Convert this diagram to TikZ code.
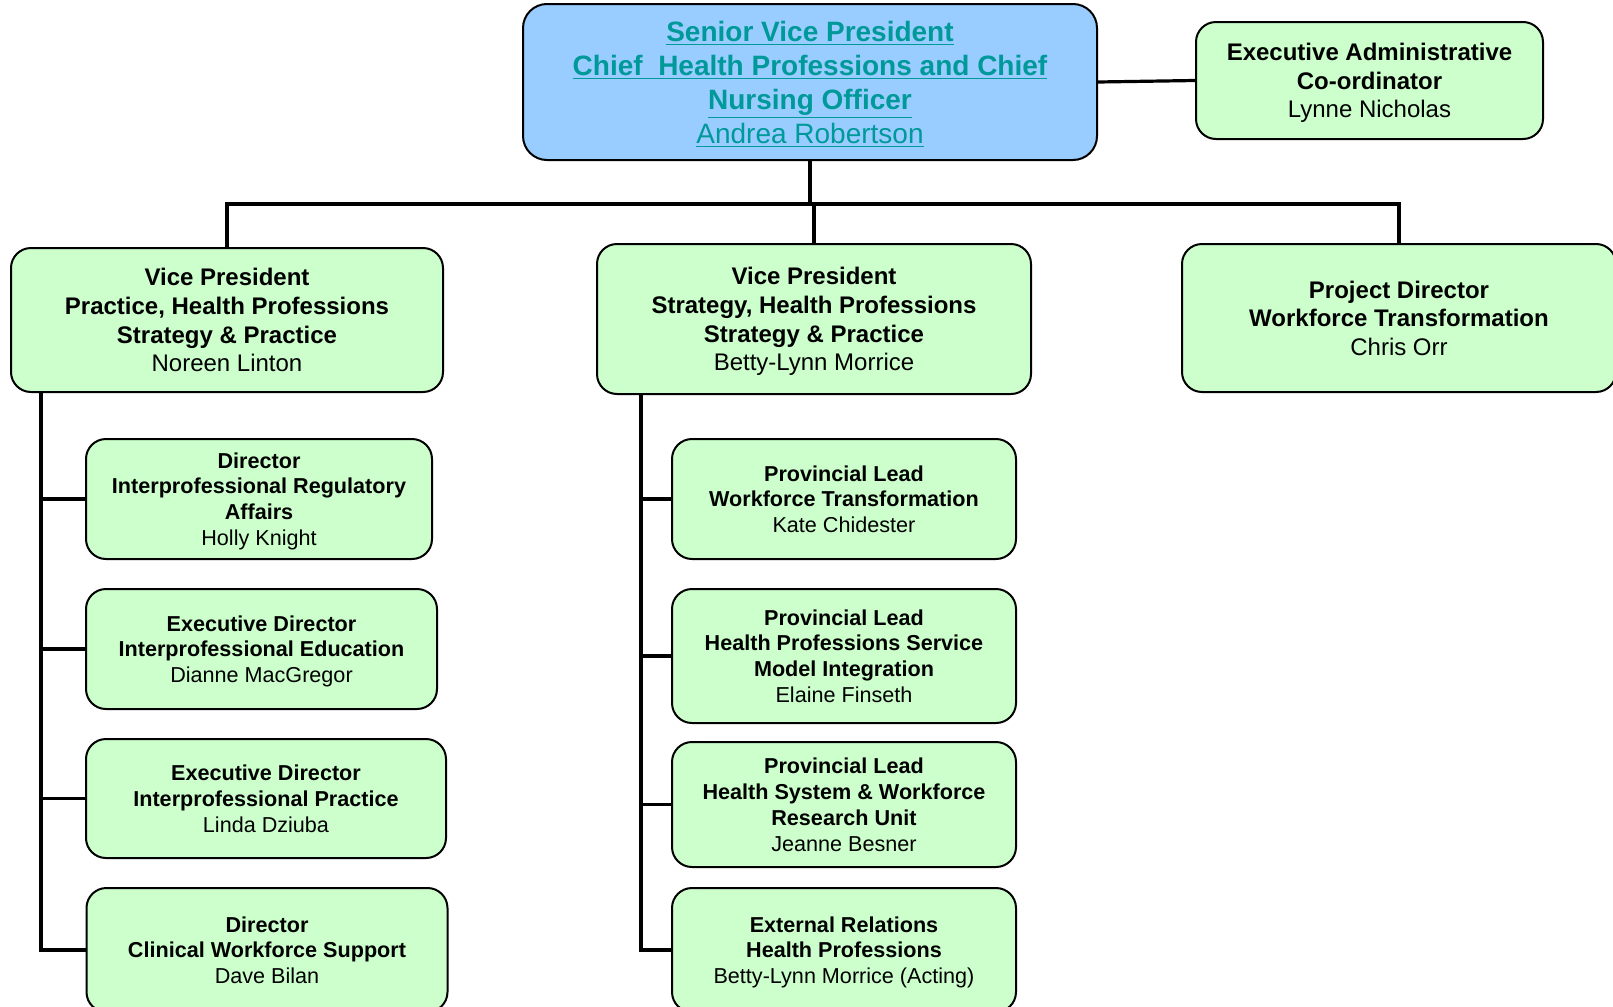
\documentclass[tikz,border=0pt]{standalone}
\usepackage{fontspec}
\setmainfont{Liberation Sans}
\usetikzlibrary{calc}

\definecolor{boxgreen}{HTML}{CCFFCC}
\definecolor{boxblue}{HTML}{99CCFF}
\definecolor{svpteal}{HTML}{009999}

\begin{document}
\begin{tikzpicture}[x = 0.5pt, y = -0.5pt,
  box/.style = {draw, line width = 1pt, rounded corners = 10pt, fill = boxgreen,
                align = center, inner sep = 0pt, text depth = -0.5pt},
  big/.style = {font = \fontsize{12}{14.3}\selectfont},
  small/.style = {font = \fontsize{10.8}{12.9}\selectfont},
  link/.style = {line width = 1.6pt}]
  \useasboundingbox (0,0) rectangle (1613,1007);

  % Vertice
  \node[box, fill = boxblue, rounded corners = 12pt, minimum width = 287pt, minimum height = 78pt,
        font = \fontsize{14}{17}\selectfont, text = svpteal] (svp) at (810,82)
    {\textbf{\underline{Senior Vice President}}\\
     \textbf{\underline{Chief~ Health Professions and Chief}}\\
     \textbf{\underline{Nursing Officer}}\\
     \underline{Andrea Robertson}};

  % Assistente
  \node[box, big, minimum width = 173.5pt, minimum height = 58.5pt] (exadmin) at (1369.5,80.5)
    {\textbf{Executive Administrative}\\ \textbf{Co-ordinator}\\ Lynne Nicholas};

  % Secondo livello
  \node[box, big, minimum width = 216pt, minimum height = 72pt] (vpprac) at (227,320)
    {\textbf{Vice President}\\ \textbf{Practice, Health Professions}\\
     \textbf{Strategy \& Practice}\\ Noreen Linton};
  \node[box, big, minimum width = 217pt, minimum height = 75pt] (vpstrat) at (814,319)
    {\textbf{Vice President}\\ \textbf{Strategy, Health Professions}\\
     \textbf{Strategy \& Practice}\\ Betty-Lynn Morrice};
  \node[box, big, minimum width = 217pt, minimum height = 74pt] (projdir) at (1399,318)
    {\textbf{Project Director}\\ \textbf{Workforce Transformation}\\ Chris Orr};

  % Colonna sinistra
  \node[box, small, minimum width = 173pt, minimum height = 60pt] (hknight) at (259,499)
    {\textbf{Director}\\ \textbf{Interprofessional Regulatory}\\ \textbf{Affairs}\\ Holly Knight};
  \node[box, small, minimum width = 175.5pt, minimum height = 60pt] (dmacgregor) at (261.5,649)
    {\textbf{Executive Director}\\ \textbf{Interprofessional Education}\\ Dianne MacGregor};
  \node[box, small, minimum width = 180pt, minimum height = 59.5pt] (ldziuba) at (266,798.5)
    {\textbf{Executive Director}\\ \textbf{Interprofessional Practice}\\ Linda Dziuba};
  \node[box, small, minimum width = 180.5pt, minimum height = 62pt] (dbilan) at (267,950)
    {\textbf{Director}\\ \textbf{Clinical Workforce Support}\\ Dave Bilan};

  % Colonna centrale
  \node[box, small, minimum width = 172pt, minimum height = 60pt] (kchidester) at (844,499)
    {\textbf{Provincial Lead}\\ \textbf{Workforce Transformation}\\ Kate Chidester};
  \node[box, small, minimum width = 172pt, minimum height = 67pt] (efinseth) at (844,656)
    {\textbf{Provincial Lead}\\ \textbf{Health Professions Service}\\
     \textbf{Model Integration}\\ Elaine Finseth};
  \node[box, small, minimum width = 172pt, minimum height = 62.5pt] (jbesner) at (844,804.5)
    {\textbf{Provincial Lead}\\ \textbf{Health System \& Workforce}\\
     \textbf{Research Unit}\\ Jeanne Besner};
  \node[box, small, minimum width = 172pt, minimum height = 62pt] (extrel) at (844,950)
    {\textbf{External Relations}\\ \textbf{Health Professions}\\ Betty-Lynn Morrice (Acting)};

  % Collegamenti in alto
  \draw[link] (svp.east) -- (exadmin.west);
  \coordinate (bus) at ($(svp.south)+(0,43)$);
  \draw[link] (svp.south) -- (bus) -| (vpprac.north);
  \draw[link] (bus) -| (vpstrat.north);
  \draw[link] (bus) -| (projdir.north);

  % Dorsali
  \coordinate (lspine) at ($(vpprac.south west)+(31,0)$);
  \coordinate (mspine) at ($(vpstrat.south west)+(45,0)$);
  \draw[link] (lspine) |- (dbilan.west);
  \draw[link] (mspine) |- (extrel.west);
  \foreach \n in {hknight, dmacgregor, ldziuba}
    \draw[link] (lspine |- \n.west) -- (\n.west);
  \foreach \n in {kchidester, efinseth, jbesner}
    \draw[link] (mspine |- \n.west) -- (\n.west);
\end{tikzpicture}
\end{document}
